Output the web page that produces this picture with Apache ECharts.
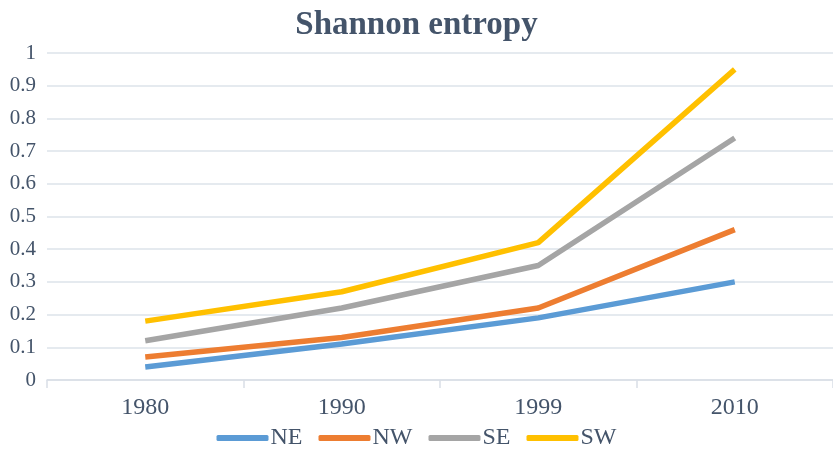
<!doctype html>
<html>
<head>
<meta charset="utf-8">
<title>Shannon entropy</title>
<script src="https://cdn.jsdelivr.net/npm/echarts@6/dist/echarts.min.js"></script>
<style>
html, body { margin: 0; padding: 0; background: #fff; }
#main { width: 833px; height: 452px; }
</style>
</head>
<body>
<div id="main"></div>
<script>
// data
var years = ['1980', '1990', '1999', '2010'];
var ne = [0.04, 0.11, 0.19, 0.30];
var nw = [0.07, 0.13, 0.22, 0.46];
var se = [0.12, 0.22, 0.35, 0.74];
var sw = [0.18, 0.27, 0.42, 0.95];

var textColor = '#44546A';
var font = '"Liberation Serif", "DejaVu Serif", serif';

function line(name, data, color) {
  return {
    name: name,
    type: 'line',
    data: data,
    symbol: 'none',
    lineStyle: { width: 5.5, color: color },
    itemStyle: { color: color }
  };
}

var myChart = echarts.init(document.getElementById('main'));
var option = {
  animation: false,
  title: {
    text: 'Shannon entropy',
    left: 'center',
    top: 4,
    textStyle: { fontFamily: font, fontSize: 33, fontWeight: 'bold', color: textColor }
  },
  legend: {
    top: 421,
    left: 'center',
    itemWidth: 52,
    itemHeight: 6,
    itemGap: 16,
    icon: 'roundRect',
    textStyle: { fontFamily: font, fontSize: 24, color: textColor, padding: [0, 0, 0, -3] },
    data: ['NE', 'NW', 'SE', 'SW']
  },
  grid: { left: 47, right: -6, top: 53, bottom: 72 },
  xAxis: {
    type: 'category',
    data: years,
    boundaryGap: true,
    axisLine: { lineStyle: { color: '#D9DEE6', width: 1.5 } },
    axisTick: { show: true, length: 8, lineStyle: { color: '#D9DEE6', width: 1.5 } },
    axisLabel: { fontFamily: font, fontSize: 24, color: textColor, margin: 16 }
  },
  yAxis: {
    type: 'value',
    min: 0,
    max: 1,
    interval: 0.1,
    axisLine: { show: false },
    axisTick: { show: false },
    splitLine: { lineStyle: { color: '#DDE3EA', width: 1.5 } },
    axisLabel: { fontFamily: font, fontSize: 21, color: textColor, margin: 11 }
  },
  series: [
    line('NE', ne, '#5B9BD5'),
    line('NW', nw, '#ED7D31'),
    line('SE', se, '#A5A5A5'),
    line('SW', sw, '#FFC000')
  ]
};
myChart.setOption(option);
</script>
</body>
</html>
